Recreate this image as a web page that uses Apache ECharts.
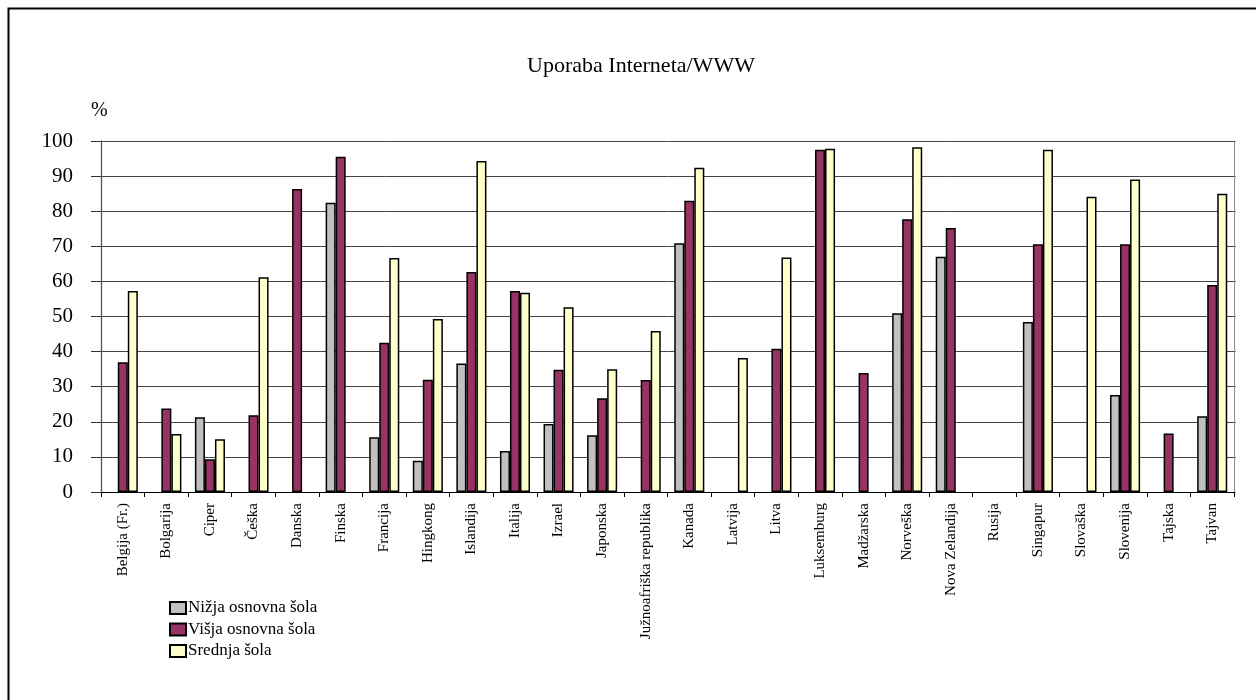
<!DOCTYPE html>
<html>
<head>
<meta charset="utf-8">
<script src="https://cdn.jsdelivr.net/npm/echarts@6/dist/echarts.min.js"></script>
<style>
  html, body { margin: 0; padding: 0; background: #fff; }
  #chart { width: 1256px; height: 700px; }
</style>
</head>
<body>
<div id="chart"></div>
<script>
// Countries on the category axis
const countries = [
  'Belgija (Fr.)', 'Bolgarija', 'Ciper', 'Češka', 'Danska', 'Finska', 'Francija',
  'Hingkong', 'Islandija', 'Italija', 'Izrael', 'Japonska', 'Južnoafriška republika',
  'Kanada', 'Latvija', 'Litva', 'Luksemburg', 'Madžarska', 'Norveška',
  'Nova Zelandija', 'Rusija', 'Singapur', 'Slovaška', 'Slovenija', 'Tajska', 'Tajvan'
];

// Share of schools using Internet/WWW (%), null = no data
const nizjaOsnovna = [
  null, null, 21.3, null, null, 82.4, 15.6,
  8.9, 36.6, 11.7, 19.4, 16.2, null,
  70.9, null, null, null, null, 50.9,
  67.0, null, 48.4, null, 27.6, null, 21.6
];
const visjaOsnovna = [
  37.0, 23.8, 9.3, 21.9, 86.3, 95.5, 42.5,
  32.0, 62.7, 57.3, 34.8, 26.7, 31.9,
  83.0, null, 40.8, 97.5, 33.9, 77.7,
  75.2, null, 70.6, null, 70.6, 16.7, 59.0
];
const srednja = [
  57.3, 16.5, 15.0, 61.2, null, null, 66.7,
  49.3, 94.3, 56.8, 52.6, 35.0, 45.9,
  92.4, 38.2, 66.8, 97.8, null, 98.2,
  null, null, 97.5, 84.1, 89.0, null, 85.0
];

const seriesNames = ['Nižja osnovna šola', 'Višja osnovna šola', 'Srednja šola'];
const seriesColors = ['#C0C0C0', '#993366', '#FFFFCC'];
const seriesData = [nizjaOsnovna, visjaOsnovna, srednja];

const serif = '"Liberation Serif", "Times New Roman", serif';

const chart = echarts.init(document.getElementById('chart'), null, { renderer: 'canvas' });

chart.setOption({
  backgroundColor: '#fff',
  animation: false,
  textStyle: { fontFamily: serif, color: '#000' },
  title: {
    text: 'Uporaba Interneta/WWW',
    left: 636,
    top: 50,
    textAlign: 'center',
    textStyle: { fontFamily: serif, fontSize: 22, fontWeight: 'normal', color: '#000' }
  },
  graphic: [
    {
      type: 'rect',
      left: 6, top: 6,
      shape: { width: 1300, height: 800 },
      style: { fill: 'none', stroke: '#000', lineWidth: 2 },
      silent: true
    },
    {
      type: 'text',
      left: 91, top: 101,
      style: { text: '%', fontFamily: serif, fontSize: 20, fill: '#000' }
    }
  ],
  legend: {
    orient: 'vertical',
    left: 169,
    top: 599,
    padding: 0,
    itemWidth: 16,
    itemHeight: 12,
    itemGap: 3.5,
    icon: 'rect',
    data: seriesNames,
    textStyle: { fontFamily: serif, fontSize: 17, lineHeight: 18, color: '#000', padding: [0, 0, 0, -3] }
  },
  grid: { left: 101, right: 22, top: 141, bottom: 208, containLabel: false },
  xAxis: {
    type: 'category',
    data: countries,
    boundaryGap: true,
    axisLine: { show: true, lineStyle: { color: '#000', width: 1.2 } },
    axisTick: { show: true, alignWithLabel: false, length: 5, lineStyle: { color: '#000' } },
    axisLabel: {
      interval: 0,
      rotate: 90,
      margin: 11,
      fontFamily: serif,
      fontSize: 15,
      color: '#000'
    }
  },
  yAxis: [
    {
      type: 'value',
      min: 0, max: 100, interval: 10,
      axisLine: { show: true, lineStyle: { color: '#555', width: 1.3 } },
      axisTick: { show: true, length: 10, lineStyle: { color: '#333' } },
      axisLabel: { margin: 28, fontFamily: serif, fontSize: 21, color: '#000' },
      splitLine: { show: true, lineStyle: { color: '#444', width: 1 } }
    },
    {
      type: 'value',
      position: 'right',
      min: 0, max: 100, interval: 10,
      axisLine: { show: true, lineStyle: { color: '#888', width: 1 } },
      axisTick: { show: true, length: 2, lineStyle: { color: '#888' } },
      axisLabel: { show: false },
      splitLine: { show: false }
    }
  ],
  series: seriesNames.map((name, i) => ({
    name: name,
    type: 'bar',
    data: seriesData[i],
    barGap: '0%',
    barCategoryGap: '31%',
    itemStyle: { color: seriesColors[i], borderColor: '#000', borderWidth: 1.5 }
  }))
});
</script>
</body>
</html>
